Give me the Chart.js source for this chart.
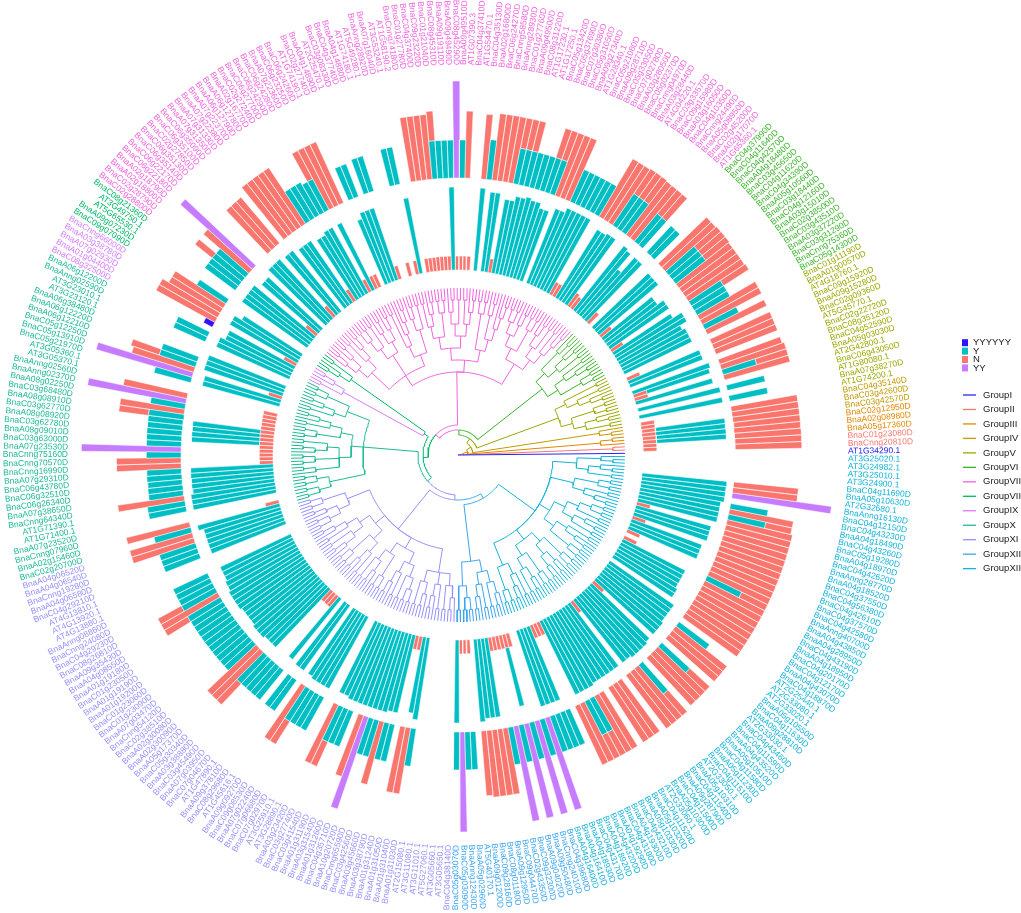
<!DOCTYPE html>
<html>
<head>
<meta charset="utf-8">
<script src="https://cdn.jsdelivr.net/npm/chart.js@4.4.1/dist/chart.umd.min.js"></script>
<style>
  html, body { margin: 0; padding: 0; background: #ffffff; }
  #wrap { position: relative; width: 1021px; height: 913px; }
</style>
</head>
<body>
<div id="wrap"><canvas id="treeChart"></canvas></div>
<script>
/*
  Circular gene tree with two bar rings.
  Tips run counter-clockwise from the right; each ring token is "<type><length>",
  stacked with "+", "-" means no bar. N = N, Y = Y, P = YY, B = YYYYYY.
*/
const groupNames = ["GroupI", "GroupII", "GroupIII", "GroupIV", "GroupV", "GroupVI", "GroupVII",
  "GroupVIII", "GroupIX", "GroupX", "GroupXI", "GroupXII", "GroupXIII"];
const groupSizes = [1, 2, 3, 3, 16, 17, 85, 5, 5, 38, 65, 16, 65];

const tipLabels = [
  // I
  "AT1G34290.1",
  // II
  "BnaCnng20810D", "BnaC01g23080D",
  // III
  "BnaA05g17360D", "BnaA02g08980D", "BnaC02g12950D",
  // IV
  "BnaC03g42570D", "BnaC03g42600D", "BnaC04g35140D",
  // V
  "AT1G74200.1", "BnaA07g38270D", "AT1G80080.1", "BnaC06g43050D", "AT2G42800.1", "BnaA05g03030D",
  "BnaC04g52590D", "BnaC08g35120D", "BnaC02g22720D", "AT5G45770.1", "BnaC02g09360D", "BnaA09g15280D",
  "BnaC09g15920D", "AT4G18760.1", "BnaA01g00570D", "BnaC01g11190D",
  // VI
  "BnaC05g14300D", "BnaCnng75360D", "BnaC03g31290D", "BnaA03g37220D", "BnaC03g43510D", "BnaC02g38500D",
  "BnaA03g15010D", "BnaC04g12160D", "BnaC03g18440D", "BnaA05g10560D", "BnaC04g34390D", "BnaC04g11620D",
  "BnaC03g45650D", "BnaA04g18480D", "BnaC04g42570D", "BnaC04g11640D", "BnaC04g37990D",
  // VII
  "AT1G65360.1", "BnaA02g17070D", "BnaC02g45200D", "BnaA05g08950D", "BnaCnng24490D", "BnaC04g10350D",
  "BnaA03g16050D", "BnaC09g15980D", "BnaC03g33570D", "AT4G04220.1", "BnaA03g28440D", "BnaCnng04970D",
  "BnaC05g02370D", "BnaA03g28050D", "BnaC07g02780D", "BnaC05g33050D", "BnaA09g28710D", "BnaC05g21080D",
  "AT1G28340.1", "BnaA09g27340D", "BnaC05g31050D", "BnaC07g30380D", "BnaC05g37690D", "BnaC05g13420D",
  "AT1G17250.1", "AT1G17230.1", "BnaC08g31220D", "BnaA09g49500D", "BnaC01g27760D", "BnaAnng28930D",
  "BnaCnng58580D", "BnaC06g24270D", "BnaA02g16800D", "BnaC04g35130D", "AT1G54470.1", "BnaC04g37410D",
  "AT1G07390.3", "BnaA09g49510D", "BnaC08g45290D", "BnaA09g49490D", "BnaA09g19110D", "BnaC08g45310D",
  "BnaC01g21040D", "BnaC09g23220D", "BnaC04g37400D", "BnaC01g27780D", "BnaCnng74180D", "AT1G58190.2",
  "AT3G53240.1", "BnaA07g16040D", "BnaAnng28920D", "AT5G49280.1", "AT1G74180.1", "BnaA04g14880D",
  "BnaC04g37740D", "BnaC03g08330D", "AT2G25470.1", "BnaA04g14890D", "BnaC02g27740D", "AT1G74190.1",
  "BnaC06g24260D", "BnaC06g23250D", "BnaA07g22360D", "BnaC06g24280D", "BnaC06g24290D", "BnaC06g27700D",
  "BnaC02g27240D", "BnaA02g16770D", "BnaA06g12780D", "BnaA06g12790D", "BnaA07g22370D", "BnaA07g22380D",
  "BnaA07g31330D", "BnaA07g31350D", "BnaC06g35090D", "BnaC06g35100D", "BnaC02g27850D", "BnaC06g35130D",
  "BnaC06g35140D", "BnaC06g22170D", "BnaC06g22180D", "BnaA02g18790D", "BnaA02g18800D", "BnaC02g28790D",
  "BnaC02g28800D",
  // VIII
  "BnaC08g21360D", "AT3G49750.1", "AT5G65530.1", "BnaA09g07230D", "BnaC09g07090D",
  // IX
  "BnaCnng66000D", "BnaA03g38780D", "BnaA07g02930D", "BnaA01g04400D", "BnaC08g32500D",
  // X
  "BnaA06g12200D", "BnaAnng02590D", "AT3G23010.1", "AT3G23120.1", "BnaA06g38480D", "BnaA06g12220D",
  "BnaA06g12210D", "BnaC05g12250D", "BnaC05g13910D", "BnaC05g21970D", "AT3G05360.1", "AT3G05370.1",
  "BnaAnng02560D", "BnaAnng02370D", "BnaA08g02250D", "BnaC03g68480D", "BnaA08g08910D", "BnaC03g62770D",
  "BnaA08g08920D", "BnaC03g62780D", "BnaA08g09010D", "BnaC03g63000D", "BnaA07g23530D", "BnaCnng75160D",
  "BnaCnng70570D", "BnaCnng16990D", "BnaA07g29310D", "BnaC06g43780D", "BnaC06g32510D", "BnaC06g26340D",
  "BnaA07g38650D", "BnaCnng64340D", "AT1G71390.1", "AT1G71400.1", "BnaA07g23520D", "BnaCnng07960D",
  "BnaA02g15460D", "BnaC02g20700D",
  // XI
  "BnaA04g06520D", "BnaA04g06540D", "BnaCnng19280D", "BnaA04g06580D", "BnaC04g29210D", "AT4G13810.1",
  "AT4G13920.1", "AT4G13880.1", "BnaAnng08860D", "BnaCnng24080D", "BnaC04g29230D", "BnaC08g26810D",
  "BnaA09g35430D", "BnaA04g08550D", "BnaA01g19180D", "BnaC01g23050D", "BnaA01g19190D", "BnaA01g19200D",
  "BnaC01g23060D", "BnaC01g23090D", "BnaA07g03470D", "BnaCnng54120D", "BnaC02g38510D", "BnaA02g30080D",
  "BnaA02g30090D", "BnaA05g17370D", "BnaC05g30340D", "BnaA03g38880D", "BnaC03g45490D", "BnaA07g03950D",
  "BnaC07g04670D", "AT1G47890.1", "BnaA09g37810D", "BnaC08g29680D", "AT1G45616.1", "BnaA09g09270D",
  "BnaC09g08530D", "BnaA07g02240D", "BnaC07g06680D", "BnaC07g02970D", "AT3G25910.1", "AT3G28890.1",
  "BnaA03g23420D", "BnaC03g27740D", "BnaC03g41540D", "BnaA01g31190D", "BnaA03g31540D", "BnaA01g31260D",
  "BnaC04g35710D", "BnaA10g20720D", "BnaCnng65590D", "BnaC03g42560D", "BnaA03g45660D", "BnaA03g38790D",
  "BnaA01g31240D", "BnaA01g31050D", "BnaA01g31040D", "BnaA01g31030D", "AT2G15080.1", "AT3G11080.1",
  "AT3G11010.1", "AT5G27060.1", "AT3G05660.1", "AT3G05650.1", "BnaC04g38140D",
  // XII
  "BnaC05g03070D", "BnaC05g03090D", "BnaAnng12430D", "BnaA05g02960D", "AT5G40170.1", "BnaA09g01200D",
  "BnaC09g28160D", "BnaC08g01180D", "BnaA09g12950D", "BnaC09g04470D", "BnaC02g43350D", "BnaC09g32300D",
  "BnaA09g04020D", "BnaA09g50480D", "BnaCnng24010D", "BnaC04g39680D",
  // XIII
  "BnaA04g16400D", "BnaA04g16410D", "BnaA04g18930D", "BnaC04g43170D", "BnaA04g18920D", "BnaC04g43200D",
  "BnaA04g19290D", "BnaC04g43180D", "BnaA04g19300D", "BnaC04g43210D", "BnaA05g10330D", "BnaA05g10320D",
  "BnaC04g11520D", "AT2G33060.1", "BnaA05g10300D", "BnaC04g11500D", "BnaA09g28790D", "BnaC04g11540D",
  "BnaA05g10310D", "AT2G33050.1", "BnaC04g11510D", "BnaA05g11230D", "BnaC04g11580D", "BnaA05g10510D",
  "BnaA04g43520D", "BnaC04g11590D", "BnaC04g43460D", "AT2G33030.1", "BnaA09g28810D", "BnaC04g11630D",
  "BnaA05g10550D", "AT2G33020.1", "AT2G33080.1", "AT2G25440.1", "BnaC04g18870D", "BnaA04g43070D",
  "BnaC04g12170D", "BnaC04g20170D", "BnaA04g18950D", "BnaC04g43190D", "BnaA04g28950D", "BnaA04g43850D",
  "BnaAnng40700D", "BnaC04g42580D", "BnaC04g37570D", "BnaC04g42610D", "BnaC04g56380D", "BnaC04g37550D",
  "BnaA04g18520D", "BnaAnng28770D", "BnaC04g42620D", "BnaA04g18970D", "BnaC05g19280D", "BnaC04g43260D",
  "BnaA04g18490D", "BnaC04g43230D", "BnaC04g12150D", "BnaAnng16130D", "AT2G32680.1", "BnaA05g10630D",
  "BnaC04g11690D", "AT3G24900.1", "AT3G25010.1", "AT3G24982.1", "AT3G25020.1"
];

const innerRing = [
  "-",
  "N14", "N14",
  "N14+Y70", "N14+Y70", "N14+Y70",
  "N14+Y70", "N14", "N14",
  "-", "Y85", "-", "Y85", "-", "Y80", "N14", "N14+Y66", "Y82", "-", "Y78", "Y78", "N14", "-", "Y75", "Y75",
  "Y75", "Y72", "Y80", "Y80", "Y70", "N14", "Y72", "Y72", "Y65", "Y65", "N14", "Y78", "Y78", "Y78", "-", "N14", "Y80",
  "Y80", "Y60", "Y80", "Y82", "N14", "N16", "Y82", "Y82", "Y80", "Y80",
  "N14", "N14", "Y85", "Y85", "Y85", "Y85", "Y85", "Y80", "Y80", "-",
  "Y75", "Y75", "Y80", "Y80", "Y82", "Y80", "Y80", "Y75", "Y75", "N14",
  "Y80", "Y80", "-", "Y83", "-", "N14", "N14", "N14", "N14", "Y83",
  "N14", "N14", "N14", "N14", "N14", "N14", "N14", "-", "Y77", "N14",
  "-", "N14", "-", "-", "N14", "Y76", "Y76", "Y76", "Y70", "-",
  "N14", "N14", "Y75", "N14", "Y75", "Y75", "Y72", "Y72", "N14", "Y75",
  "Y75", "Y75", "-", "Y78", "Y78", "N14", "Y80", "Y80", "Y80", "-",
  "Y75", "Y75", "N14", "Y80", "Y80",
  "Y80", "Y80", "-", "-", "Y70",
  "Y78", "Y78", "N14", "Y75", "Y75",
  "Y80", "Y80", "-", "-", "Y83", "Y83", "Y83", "N14", "Y80", "Y80",
  "-", "-", "N14", "N14", "N14", "N14", "N14", "N14+Y68", "N14+Y68", "N14+Y68",
  "N14+Y68", "N14", "N14", "N14", "N14", "N14", "Y83", "Y83", "Y83", "Y83",
  "Y83", "Y85", "Y85", "Y85", "-", "-", "N14", "Y85",
  "Y80", "Y80", "Y80", "Y80", "Y80", "-", "-", "-", "Y78", "Y78",
  "Y78", "Y80", "Y80", "Y82", "Y82", "Y82", "Y82", "Y80", "Y80", "Y80",
  "Y80", "Y82", "Y82", "Y82", "Y80", "Y80", "Y80", "N14", "N14", "N14",
  "Y78", "-", "Y80", "Y80", "-", "Y80", "Y82", "Y82", "Y82", "Y82",
  "-", "-", "Y80", "Y80", "Y82", "Y82", "Y82", "Y82", "Y82", "Y82",
  "Y82", "Y82", "Y80", "Y80", "N14", "N14", "Y77", "Y83", "-", "-",
  "-", "-", "-", "-", "-",
  "Y83", "N14", "N14", "N14", "-", "Y83", "Y80", "Y80", "Y80", "N14",
  "N14", "N14", "N14", "N14+Y60", "N14", "-",
  "-", "Y80", "Y80", "Y80", "Y80", "N14", "N14", "N14", "Y82", "Y82",
  "Y82", "Y82", "Y80", "Y80", "Y80", "Y80", "Y80", "Y80", "N14", "Y80",
  "Y80", "Y82", "Y82", "Y82", "Y82", "Y80", "N14", "Y80", "Y80", "Y80",
  "Y78", "Y78", "Y78", "Y78", "-", "Y72", "Y72", "Y70", "Y70", "Y70",
  "Y70", "N14", "-", "N14", "Y75", "Y75", "Y75", "N14", "Y78", "Y78",
  "Y78", "N14", "Y82", "Y82", "Y82", "Y82", "Y85", "Y85", "Y85", "Y85",
  "-", "-", "-", "-", "-"
];

const outerRing = [
  "-",
  "N67", "N67",
  "N67", "N67", "N67",
  "N67", "N67", "N67",
  "-", "Y39", "-", "Y39", "-", "N68", "Y35+N33", "N68", "N66", "-", "N66", "N66", "N66", "-", "N66", "Y38",
  "N67", "N67", "Y38", "Y38", "Y38+N30", "N67", "N67", "N67", "N67", "Y38+N30", "Y38+N30", "Y38+N30", "N67", "N67", "-", "Y36", "Y36",
  "-", "Y36+N31", "Y36+N31", "N67", "N67", "Y38+N30", "Y38+N30", "Y38+N30", "N67", "N67",
  "N67", "Y35", "Y35", "Y35", "Y35", "Y35", "Y35", "N67", "N67", "N67",
  "Y36+N31", "Y36+N31", "Y36", "Y36", "Y36", "Y36+N31", "Y36+N31", "Y36+N31", "N67", "N67",
  "N67", "N67", "Y40", "N65", "-", "-", "N67", "Y38", "P97", "Y38",
  "Y38", "Y38", "Y38+N30", "N65", "N65", "N65", "N65", "-", "-", "Y38",
  "Y38", "-", "-", "-", "Y37", "Y37", "-", "Y35", "Y35", "-",
  "N67", "N67", "N67", "Y35+N32", "Y35", "Y38", "Y38", "Y38", "N67", "N67",
  "N67", "N67", "N67", "-", "N60", "N60", "N60", "-", "-", "-",
  "P97", "N60", "Y38", "Y38+N22", "Y38",
  "Y38", "-", "-", "Y35", "N60",
  "N60", "N67", "N67", "B10", "-",
  "Y35", "Y35", "-", "-", "-", "Y38", "Y38+N30", "N65", "P100", "Y38",
  "-", "-", "N65", "P100", "Y35", "N65", "Y35+N30", "Y35", "Y35", "Y35",
  "Y35", "Y35", "P100", "Y35", "N65", "N65", "Y35", "Y35", "Y35", "Y35",
  "Y35", "N67", "Y38", "Y38", "-", "-", "N65", "Y38",
  "N65", "N65", "Y38", "Y38", "Y38", "-", "-", "-", "Y38", "Y38",
  "Y38", "Y38+N27", "N65", "Y38+N27", "Y38", "Y38", "Y38", "Y38", "Y38", "Y38",
  "Y38", "Y38", "Y38", "Y38", "N67", "N67", "Y38+N29", "Y38", "Y38", "Y38",
  "Y38", "-", "Y38", "Y38", "-", "N65", "Y38+N27", "Y38", "Y38", "Y38",
  "-", "-", "N65", "Y38+N27", "Y38", "Y38", "-", "N65", "P97", "Y38",
  "Y38", "N65", "Y38", "Y38", "-", "N67", "N67", "Y38", "-", "-",
  "-", "-", "-", "-", "-",
  "Y38", "P100", "Y38", "Y38", "-", "N65", "N67", "N67", "N67", "N67",
  "Y38", "P97", "Y38", "P97", "Y38", "P97",
  "Y38", "P97", "Y38", "Y38", "Y38", "Y38", "-", "N65", "N65", "Y38+N27",
  "Y38+N27", "N65", "N65", "-", "N65", "N65", "N65", "-", "N67", "N67",
  "N67", "Y38+N29", "-", "N65", "N65", "N65", "Y38+N27", "-", "N65", "N65",
  "N65", "Y38", "-", "N67", "N67", "N67", "N67", "N67", "N67", "N67",
  "N67", "Y38+N29", "N67", "N67", "N67", "N67", "N67", "N67", "N67", "N67",
  "N67", "N67", "N67", "Y38+N27", "N65", "Y38", "-", "P100", "N65", "N65",
  "-", "-", "-", "-", "-"
];

// clade shapes per group: a number n is a ladder of n tips, an array is a node
const cladeShapes = [
  1,
  [1, 1],
  [1, [1, 1]],
  [[1, 1], 1],
  [[[2, 3], [2, 2]], [[3, 2], 2]],
  [[[2, 2], [3, 2]], [[2, 3], [2, 1]]],
  [[[[3, 2], [2, 3]], [[2, 2], [3, [2, 2]]]],
   [[[4, 3], [2, 2]], [[[3, 2], [2, 3]], [[2, 2], [3, 2]]]],
   [[[2, 3], [4, 2]], [[3, 3], [2, [2, 2]]], [[3, 2], [3, 3]]]],
  [2, [1, 2]],
  [[2, 1], 2],
  [[[2, 2], [3, 2]], [[[3, 2], [2, 2]], [[2, 3], [2, 2], 3]], [[2, 2], [2, 2]]],
  [[[2, 2], [3, [2, 2]]], [[[3, 2], [2, 3]], [[2, 2], [3, 2]]],
   [[[2, 3], [2, 2]], [[3, 2], [2, [2, 2]]]], [[2, 3], [3, 2], [2, 3]]],
  [[2, [2, 2]], [[3, 2], [2, 3]]],
  [[[2, 2], [3, 2]], [[[2, 3], [2, 2]], [[3, 3], [2, 2]]],
   [[[2, 2], [3, 2]], [[2, 3], [2, [2, 2]]]], [[3, 2], [2, 2]], [[2, 3], 3]]
];
// how the groups hang off the backbone (numbers are group indexes)
const backbone = [0, [1, [2, [3, [4, [5, [6, [[7, 8], [9, [10, [11, 12]]]]]]]]]]];

const groupColors = ["#2424FF", "#F7776F", "#E28800", "#C39A00", "#9CA800", "#3AB42A", "#F163DE",
  "#00B866", "#D67CFF", "#1DBA97", "#9590FF", "#3AA4F0", "#14B4D8"];
const typeCodes = { N: "N", Y: "Y", P: "YY", B: "YYYYYY" };
const legendTypes = ["YYYYYY", "Y", "N", "YY"];
const typeColors = { YYYYYY: "#3311FF", Y: "#00BFC4", N: "#F8766D", YY: "#C77CFF" };

const CENTER_X = 458, CENTER_Y = 455;
const TIP_R = 167, INNER_BASE = 185, OUTER_BASE = 277, LABEL_R = 390;
const BACKBONE_STEP = 5, CLADE_STEP = 12;
const DEG = Math.PI / 180;
const STEP = 360 / tipLabels.length;
const GAP = { x: null, y: null };

const angleOf = (i) => (i + 0.5) * STEP;
const pt = (r, a) => ({ x: r * Math.cos(a), y: r * Math.sin(a) });

const leafGroup = [];
groupSizes.forEach((n, g) => { for (let k = 0; k < n; k++) leafGroup.push(g); });

let leafCursor = 0;
function buildClade(shape, group) {
  if (typeof shape === "number") {
    let node = { leaf: leafCursor++ };
    for (let k = 1; k < shape; k++) {
      node = { children: [node, { leaf: leafCursor++ }], group };
    }
    return node;
  }
  return { children: shape.map((s) => buildClade(s, group)), group };
}

function buildBackbone(spec) {
  if (typeof spec === "number") return buildClade(cladeShapes[spec], spec);
  return { children: spec.map(buildBackbone), group: null };
}

function layout(node, depth) {
  node.depth = depth;
  if (node.leaf !== undefined) {
    node.theta = angleOf(node.leaf);
    node.height = 0;
    node.first = node.leaf;
    return;
  }
  node.children.forEach((c) => layout(c, depth + 1));
  node.height = 1 + Math.max(...node.children.map((c) => c.height));
  node.theta = (node.children[0].theta + node.children[node.children.length - 1].theta) / 2;
  node.first = node.children[0].first;
}

function placeRadius(node, parentR) {
  if (node.leaf !== undefined) node.r = TIP_R;
  else if (node.group === null) node.r = node.depth * BACKBONE_STEP;
  else node.r = Math.max(parentR + 4, TIP_R - node.height * CLADE_STEP);
  if (node.children) node.children.forEach((c) => placeRadius(c, node.r));
}

// each child edge: arc at the parent radius, then a radial line out to the child
function collectEdges(node, out) {
  if (!node.children) return;
  node.children.forEach((child) => {
    const pts = out[leafGroup[child.first]];
    const a0 = node.theta, a1 = child.theta;
    const n = Math.max(1, Math.ceil(Math.abs(a1 - a0) / 1.5));
    for (let k = 0; k <= n; k++) pts.push(pt(node.r, (a0 + (a1 - a0) * k / n) * DEG));
    pts.push(pt(child.r, a1 * DEG));
    pts.push(GAP);
    collectEdges(child, out);
  });
}

function parseToken(tok) {
  if (!tok || tok === "-") return [];
  return tok.split("+").map((s) => ({ type: typeCodes[s[0]], len: Number(s.slice(1)) }));
}

function ringDatasets(tokens, base) {
  const byType = {};
  legendTypes.forEach((t) => { byType[t] = []; });
  tokens.forEach((tok, i) => {
    const a0 = (angleOf(i) - STEP / 2) * DEG;
    const a1 = (angleOf(i) + STEP / 2) * DEG;
    let r0 = base;
    parseToken(tok).forEach((seg) => {
      const r1 = r0 + seg.len;
      byType[seg.type].push(pt(r0, a0), pt(r1, a0), pt(r1, a1), pt(r0, a1), pt(r0, a0), GAP);
      r0 = r1;
    });
  });
  return legendTypes.map((t) => ({
    label: t,
    data: byType[t],
    backgroundColor: typeColors[t],
    borderColor: "#ffffff",
    borderWidth: 0.5,
    fill: "shape",
    pointRadius: 0,
    spanGaps: false,
  }));
}

const tree = buildBackbone(backbone);
layout(tree, 0);
placeRadius(tree, 0);
const edgePoints = groupNames.map(() => []);
collectEdges(tree, edgePoints);

const treeDatasets = edgePoints.map((pts, g) => ({
  label: groupNames[g],
  data: pts,
  borderColor: groupColors[g],
  borderWidth: 1,
  fill: false,
  pointRadius: 0,
  spanGaps: false,
}));

const tipLabelPlugin = {
  id: "tipLabels",
  afterDatasetsDraw(chart) {
    const { ctx, scales: { x, y } } = chart;
    ctx.save();
    ctx.font = '8.5px "Liberation Sans", Arial, sans-serif';
    ctx.textBaseline = "middle";
    tipLabels.forEach((name, i) => {
      const a = angleOf(i) * DEG;
      const p = pt(LABEL_R, a);
      ctx.save();
      ctx.translate(x.getPixelForValue(p.x), y.getPixelForValue(p.y));
      ctx.fillStyle = groupColors[leafGroup[i]];
      if (Math.cos(a) >= -1e-9) {
        ctx.rotate(-a);
        ctx.textAlign = "left";
      } else {
        ctx.rotate(Math.PI - a);
        ctx.textAlign = "right";
      }
      ctx.fillText(name, 0, 0);
      ctx.restore();
    });
    ctx.restore();
  },
};

const legendPlugin = {
  id: "sideLegend",
  afterDraw(chart) {
    const { ctx } = chart;
    ctx.save();
    ctx.font = '9.5px "Liberation Sans", Arial, sans-serif';
    ctx.textBaseline = "middle";
    ctx.textAlign = "left";
    legendTypes.forEach((t, k) => {
      const cy = 342.7 + k * 8.4;
      ctx.fillStyle = typeColors[t];
      ctx.fillRect(962, cy - 3.5, 6, 7);
      ctx.fillStyle = "#1a1a1a";
      ctx.fillText(t, 973, cy);
    });
    groupNames.forEach((name, g) => {
      const cy = 395 + g * 14.47;
      ctx.strokeStyle = groupColors[g];
      ctx.lineWidth = 1.3;
      ctx.beginPath();
      ctx.moveTo(963, cy);
      ctx.lineTo(976, cy);
      ctx.stroke();
      ctx.fillStyle = "#1a1a1a";
      ctx.fillText(name, 983, cy);
    });
    ctx.restore();
  },
};

new Chart(document.getElementById("treeChart"), {
  type: "line",
  data: {
    datasets: [
      ...treeDatasets,
      ...ringDatasets(innerRing, INNER_BASE),
      ...ringDatasets(outerRing, OUTER_BASE),
    ],
  },
  options: {
    responsive: true,
    maintainAspectRatio: false,
    animation: false,
    events: [],
    layout: { padding: 0 },
    elements: { line: { tension: 0 } },
    scales: {
      x: { type: "linear", min: -CENTER_X, max: 1021 - CENTER_X, display: false },
      y: { type: "linear", min: CENTER_Y - 913, max: CENTER_Y, display: false },
    },
    plugins: {
      legend: { display: false },
      tooltip: { enabled: false },
    },
  },
  plugins: [tipLabelPlugin, legendPlugin],
});
</script>
</body>
</html>
